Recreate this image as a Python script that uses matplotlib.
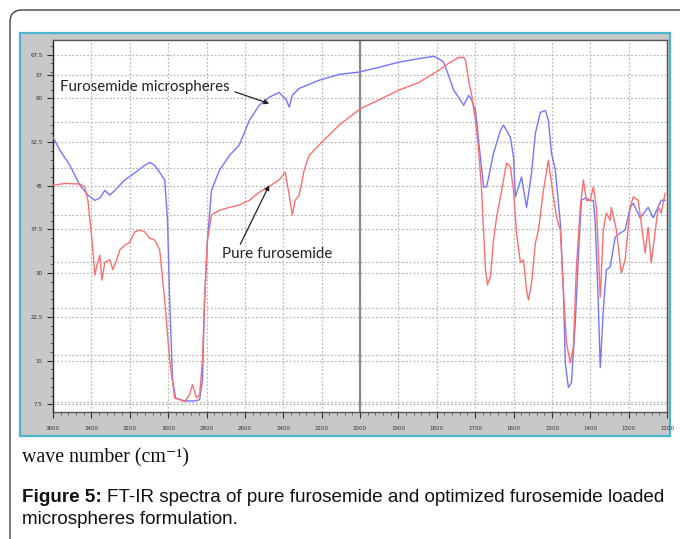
import numpy as np
import matplotlib
matplotlib.use('Agg')
import matplotlib.pyplot as plt
from matplotlib.patches import Rectangle, FancyBboxPatch

# FT-IR spectra (wave number, % transmittance)
micro_wn = [3600, 3564, 3512, 3460, 3418, 3382, 3356, 3330, 3304, 3278, 3226, 3174, 3122, 3096, 3070,
            3044, 3018, 3003, 2992, 2977, 2961, 2914, 2862, 2836, 2821, 2810, 2795, 2774, 2732, 2680,
            2629, 2577, 2525, 2473, 2421, 2384, 2369, 2353, 2317, 2213, 2109, 2005, 1951, 1899, 1847,
            1808, 1795, 1782, 1769, 1756, 1743, 1730, 1717, 1709, 1699, 1691, 1678, 1670, 1652, 1634,
            1626, 1608, 1600, 1595, 1579, 1566, 1553, 1543, 1530, 1517, 1509, 1501, 1491, 1478, 1470,
            1465, 1457, 1449, 1439, 1431, 1423, 1413, 1400, 1392, 1387, 1379, 1374, 1366, 1358, 1348,
            1335, 1322, 1309, 1296, 1288, 1270, 1249, 1236, 1215, 1205]
micro_t = [53.3, 51.1, 48.5, 45.1, 43.4, 42.5, 42.9, 44.2, 43.4, 44.2, 46.0, 47.2, 48.5, 49.0, 48.5,
           47.3, 46.0, 39.1, 25.4, 11.7, 8.6, 8.1, 8.1, 8.3, 11.7, 25.4, 35.7, 44.2, 47.7, 50.2,
           52.0, 56.2, 58.8, 60.2, 61.0, 59.7, 58.5, 60.5, 61.7, 63.1, 64.1, 64.5, 65.3, 66.2, 66.8,
           67.2, 66.8, 66.2, 63.9, 61.4, 60.2, 58.8, 60.5, 59.7, 57.9, 52.8, 44.8, 44.8, 50.6, 54.5,
           55.4, 53.3, 49.9, 43.1, 46.5, 41.3, 47.2, 54.0, 57.6, 57.9, 56.2, 50.6, 47.7, 38.6, 27.1,
           14.6, 10.4, 11.2, 21.5, 32.8, 42.5, 42.9, 42.5, 42.5, 38.6, 24.9, 13.8, 23.7, 30.6, 31.1,
           36.2, 36.9, 37.4, 41.3, 42.0, 39.5, 41.3, 39.5, 42.5, 42.5]

pure_wn = [3600, 3538, 3460, 3434, 3418, 3397, 3382, 3371, 3356, 3345, 3330, 3304, 3288, 3268, 3252,
           3226, 3200, 3174, 3148, 3122, 3096, 3070, 3044, 3018, 2992, 2966, 2940, 2914, 2888, 2873,
           2852, 2836, 2821, 2810, 2795, 2774, 2732, 2680, 2629, 2577, 2525, 2473, 2421, 2390, 2369,
           2353, 2338, 2317, 2291, 2265, 2213, 2109, 1997, 1951, 1899, 1847, 1795, 1769, 1743, 1730,
           1725, 1717, 1709, 1699, 1691, 1683, 1678, 1673, 1668, 1660, 1652, 1644, 1631, 1618, 1608,
           1600, 1592, 1582, 1574, 1566, 1561, 1553, 1543, 1535, 1522, 1509, 1501, 1488, 1478, 1470,
           1462, 1452, 1444, 1436, 1426, 1418, 1410, 1400, 1392, 1384, 1374, 1366, 1358, 1348, 1345,
           1332, 1319, 1309, 1296, 1288, 1275, 1257, 1249, 1241, 1223, 1215, 1205]
pure_t = [45.1, 45.4, 45.3, 44.8, 42.5, 35.7, 29.7, 31.4, 33.1, 28.8, 31.9, 32.3, 30.6, 32.3, 34.0,
          34.8, 35.3, 37.1, 37.4, 37.1, 36.0, 35.7, 34.0, 25.4, 15.1, 8.6, 8.3, 8.0, 9.2, 10.9,
          8.6, 9.2, 15.1, 25.4, 35.7, 40.0, 40.8, 41.3, 41.7, 42.5, 43.9, 44.9, 46.0, 47.3, 43.4,
          40.0, 42.5, 43.4, 47.7, 50.2, 52.0, 55.4, 58.3, 59.7, 61.4, 62.7, 64.8, 66.0, 67.0, 67.0,
          66.5, 63.1, 60.5, 56.2, 51.1, 44.2, 37.4, 30.6, 28.0, 29.4, 35.7, 39.6, 44.2, 48.9, 48.2,
          44.2, 36.9, 31.8, 32.3, 27.1, 25.4, 28.3, 35.2, 37.4, 44.2, 49.4, 45.4, 39.6, 37.4, 27.1,
          18.1, 14.6, 17.4, 31.1, 41.3, 46.0, 42.5, 42.5, 44.8, 41.3, 25.9, 37.4, 40.3, 39.1, 41.3,
          37.4, 30.0, 32.3, 41.3, 43.1, 42.5, 33.5, 37.9, 31.8, 41.3, 40.3, 43.7]

xticks = [3600, 3400, 3200, 3000, 2800, 2600, 2400, 2200, 2000, 1900, 1800, 1700, 1600, 1500, 1400, 1300, 1200]
yticks = [7.5, 15, 22.5, 30, 37.5, 45, 52.5, 60, 64, 67.5]
ytick_labels = ['7.5', '15', '22.5', '30', '37.5', '45', '52.5', '60', '57', '67.5']


# x axis is compressed above 2000 cm-1 (200 per division) and 100 per division below
def fwd(w):
    w = np.asarray(w, dtype=float)
    return np.where(w >= 2000, 10 + (w - 2000) / 200.0, (w - 1000) / 100.0)


def inv(p):
    p = np.asarray(p, dtype=float)
    return np.where(p >= 10, 2000 + (p - 10) * 200.0, 1000 + p * 100.0)


fig = plt.figure(figsize=(6.8, 5.39), dpi=100)

# rounded outer frame
fig.patches.append(FancyBboxPatch((0.1, -0.3), 7.0, 5.59, boxstyle="round,pad=0,rounding_size=0.12",
                                  transform=fig.dpi_scale_trans, facecolor='none',
                                  edgecolor='#444444', lw=1.0, zorder=-2))
# grey screenshot panel with cyan border
fig.patches.append(Rectangle((20 / 680, 1 - 436 / 539), 650 / 680, 403 / 539,
                             transform=fig.transFigure, facecolor='#c8c8c8',
                             edgecolor='#4ab5cc', lw=1.6, zorder=-1))

ax = fig.add_axes([53 / 680, 1 - 412 / 539, 614 / 680, 372 / 539])
ax.set_xscale('function', functions=(fwd, inv))
ax.set_xlim(3600, 1200)
ax.set_ylim(6.2, 70)
ax.set_facecolor('white')

# dotted grids
for v in np.arange(7.5, 70, 7.5):
    ax.axhline(v, color='#b8b8b8', ls=(0, (1.5, 1.5)), lw=0.9, zorder=0)
for v in np.arange(8, 70, 8):
    ax.axhline(v, color='#b8b8b8', ls=(0, (1.5, 1.5)), lw=0.9, zorder=0)
for w in xticks[1:]:
    ax.axvline(w, color='#b8b8b8', ls=(0, (1.5, 1.5)), lw=0.9, zorder=0)
ax.axvline(2000, color='#8a8a8a', lw=1.6, zorder=1)

ax.plot(micro_wn, micro_t, color='#7575ff', lw=1.0, zorder=3)
ax.plot(pure_wn, pure_t, color='#ff6e6e', lw=1.0, zorder=3)

ax.set_xticks(xticks)
ax.set_xticklabels([str(t) for t in xticks])
minor = list(np.arange(3600, 2000, -40)) + list(np.arange(2000, 1180, -20))
ax.set_xticks(minor, minor=True)
ax.set_yticks(yticks)
ax.set_yticklabels(ytick_labels)
ax.set_yticks(np.arange(7.5, 70, 1.5), minor=True)
ax.tick_params(axis='both', which='major', labelsize=4, colors='#333333', length=4, width=0.8)
ax.tick_params(axis='both', which='minor', length=2.5, width=0.6, colors='#555555')
ax.tick_params(axis='x', pad=6)
for s in ax.spines.values():
    s.set_color('#555555')
    s.set_linewidth(1.0)
ax.spines['left'].set_color('#222222')

txt_font = ['Lato', 'DejaVu Sans']
ax.annotate('Furosemide microspheres', xy=(2473, 59.1), xytext=(3564, 61.9),
            fontsize=10.8, family=txt_font, color='#222222', va='center', ha='left',
            arrowprops=dict(arrowstyle='-|>', color='#222222', lw=0.9, mutation_scale=7,
                            shrinkA=2, shrinkB=0, relpos=(1.0, 0.3)))
ax.annotate('Pure furosemide', xy=(2473, 45.1), xytext=(2717, 33.3),
            fontsize=10.9, family=txt_font, color='#222222', va='center', ha='left',
            arrowprops=dict(arrowstyle='-|>', color='#222222', lw=0.9, mutation_scale=7,
                            shrinkA=0, shrinkB=0, relpos=(0.15, 1.0)))

fig.text(22 / 680, 1 - 458 / 539, 'wave number (cm\u207b\u00b9)', fontsize=14.3,
         family=['Liberation Serif', 'DejaVu Serif'], va='center', ha='left', color='#111111')

cap_size = 13.55
bold = fig.text(22 / 680, 1 - 497 / 539, 'Figure 5:', fontsize=cap_size, family='Liberation Sans',
                weight='bold', va='center', ha='left', color='#111111')
r = fig.canvas.get_renderer()
bb = bold.get_window_extent(renderer=r)
fig.text((bb.x1 + 5) / 680, 1 - 497 / 539,
         'FT-IR spectra of pure furosemide and optimized furosemide loaded',
         fontsize=cap_size, family='Liberation Sans', va='center', ha='left', color='#111111')
fig.text(22 / 680, 1 - 519 / 539, 'microspheres formulation.', fontsize=cap_size,
         family='Liberation Sans', va='center', ha='left', color='#111111')

fig.savefig('out.png', dpi=100)
